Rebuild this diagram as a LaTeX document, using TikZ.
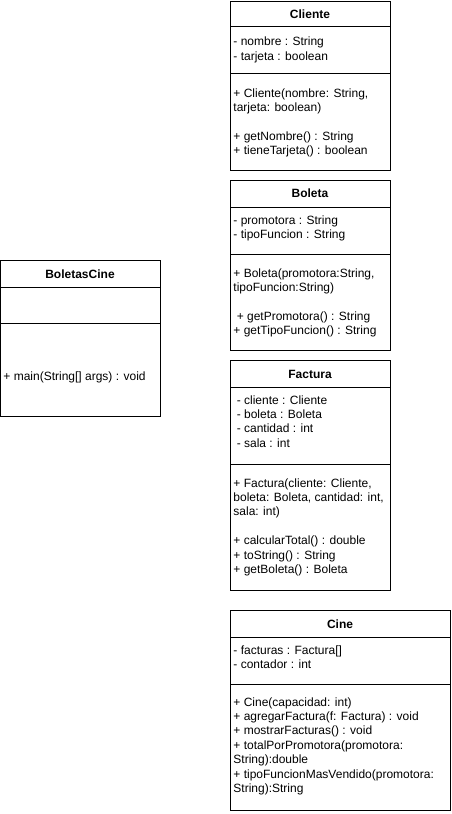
\documentclass[tikz,border=0pt]{standalone}
\usepackage{fontspec}
\setmainfont{Liberation Sans}
\begin{document}
\begin{tikzpicture}[x=1pt,y=-1pt,
    every path/.style={line width=0.9pt},
    classname/.style={font=\fontsize{12}{14.4}\selectfont\bfseries, inner sep=0pt},
    members/.style={font=\fontsize{12}{14.4}\selectfont, align=left, anchor=base west, inner sep=0pt}]
    \useasboundingbox (0,0) rectangle (451,814);

    % BoletasCine
    \draw (0,260) rectangle (160,416);
    \draw (0,287) -- (160,287);
    \draw (0,323) -- (160,323);
    \node[classname] (boletascine) at (80,274) {BoletasCine};
    \node[members] (boletascine-ops) at (3,380) {+ main(String[] args) : void};

    % Cliente (members anchored at their last line)
    \draw (230,1) rectangle (390,170);
    \draw (230,26) -- (390,26);
    \draw (230,73) -- (390,73);
    \node[classname] (cliente) at (310,14) {Cliente};
    \node[members] (cliente-attr) at (233,60) {- nombre : String\\- tarjeta : boolean};
    \node[members] (cliente-ops) at (233,154.6) {+ Cliente(nombre: String,\\tarjeta: boolean)\\[14.4pt]+ getNombre() : String\\+ tieneTarjeta() : boolean};

    % Boleta
    \draw (230,180) rectangle (390,350);
    \draw (230,207) -- (390,207);
    \draw (230,254) -- (390,254);
    \node[classname] (boleta) at (310,193) {Boleta};
    \node[members] (boleta-attr) at (233,238.4) {- promotora : String\\- tipoFuncion : String};
    \node[members] (boleta-ops) at (233,334.6) {+ Boleta(promotora:String,\\tipoFuncion:String)\\[14.4pt]\ + getPromotora() : String\\+ getTipoFuncion() : String};

    % Factura
    \draw (230,360) rectangle (390,590);
    \draw (230,387) -- (390,387);
    \draw (230,464) -- (390,464);
    \node[classname] (factura) at (310,374) {Factura};
    \node[members] (factura-attr) at (233,447.2) {\ - cliente : Cliente\\\ - boleta : Boleta\\\ - cantidad : int\\\ - sala : int};
    \node[members] (factura-ops) at (233,573.4) {+ Factura(cliente: Cliente,\\boleta: Boleta, cantidad: int,\\sala: int)\\[14.4pt]+ calcularTotal() : double\\+ toString() : String\\+ getBoleta() : Boleta};

    % Cine
    \draw (230,610) rectangle (450,810);
    \draw (230,637) -- (450,637);
    \draw (230,684) -- (450,684);
    \node[classname] (cine) at (340,624) {Cine};
    \node[members] (cine-attr) at (233,668.4) {- facturas : Factura[]\\- contador : int};
    \node[members] (cine-ops) at (233,792.4) {+ Cine(capacidad: int)\\+ agregarFactura(f: Factura) : void\\+ mostrarFacturas() : void\\+ totalPorPromotora(promotora:\\String):double\\+ tipoFuncionMasVendido(promotora:\\String):String};

\end{tikzpicture}
\end{document}
